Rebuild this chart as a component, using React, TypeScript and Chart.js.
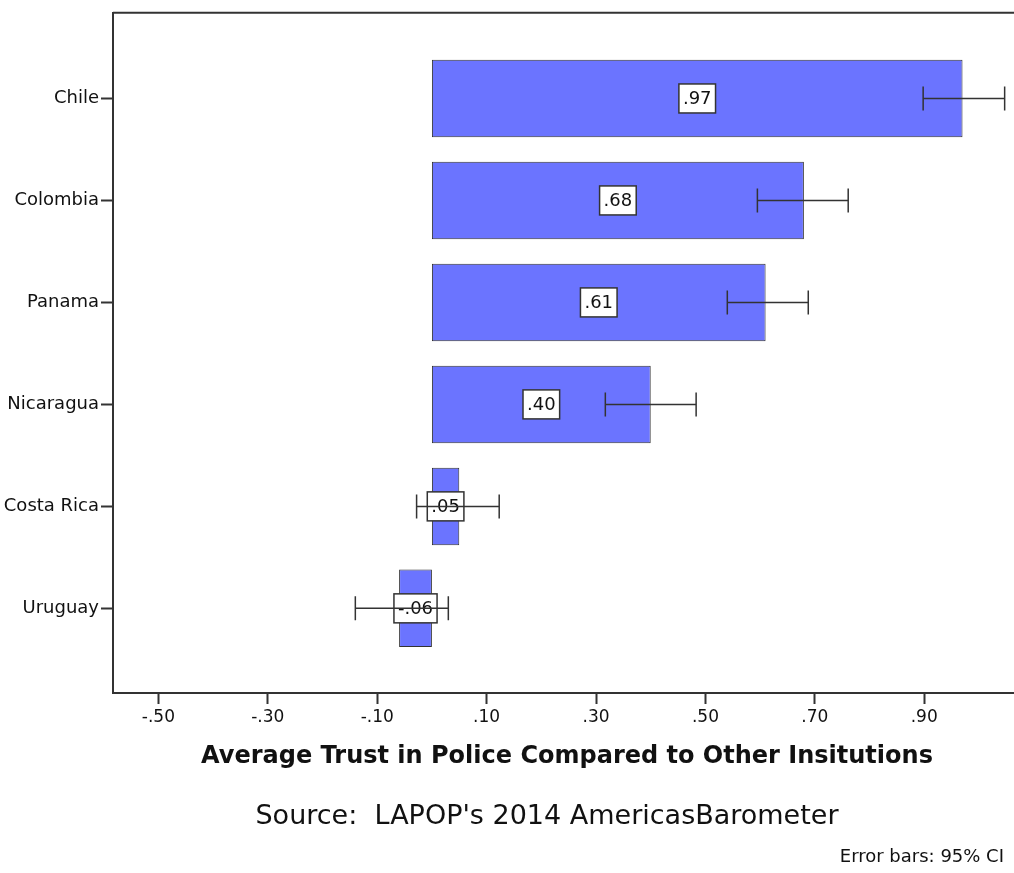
import React, { useEffect, useRef } from "react";
import { Chart, registerables } from "chart.js";

Chart.register(...registerables);

// Countries, top to bottom
const categories = ["Chile", "Colombia", "Panama", "Nicaragua", "Costa Rica", "Uruguay"];
// Mean trust in police relative to other institutions
const means = [0.97, 0.68, 0.61, 0.4, 0.05, -0.06];
// 95% confidence interval bounds
const ciLow = [0.898, 0.595, 0.54, 0.317, -0.028, -0.14];
const ciHigh = [1.047, 0.761, 0.688, 0.483, 0.123, 0.03];
// Value-axis tick positions
const xTicks = [-0.5, -0.3, -0.1, 0.1, 0.3, 0.5, 0.7, 0.9];

const axisTitle = "Average Trust in Police Compared to Other Insitutions";
const sourceText = "Source:  LAPOP's 2014 AmericasBarometer";
const noteText = "Error bars: 95% CI";

const FONT = "'DejaVu Sans', Verdana, sans-serif";
const INK = "#333333";

const fmt = (v: number) => {
  const s = Math.abs(v).toFixed(2).replace(/^0/, "");
  return v < 0 ? "-" + s : s;
};

const overlayPlugin = {
  id: "overlay",
  beforeDatasetsDraw(chart: any) {
    const { ctx, chartArea } = chart;
    ctx.save();
    ctx.strokeStyle = INK;
    ctx.lineWidth = 2;
    ctx.beginPath();
    ctx.moveTo(chartArea.left, chartArea.top);
    ctx.lineTo(chartArea.right, chartArea.top);
    ctx.stroke();
    ctx.restore();
  },
  afterDatasetsDraw(chart: any) {
    const { ctx } = chart;
    const xs = chart.scales.x;
    const ys = chart.scales.y;
    ctx.save();
    // value labels in boxed tags at the bar middle
    ctx.font = `18px ${FONT}`;
    ctx.textAlign = "center";
    ctx.textBaseline = "middle";
    means.forEach((m, i) => {
      const cx = (xs.getPixelForValue(0) + xs.getPixelForValue(m)) / 2;
      const cy = ys.getPixelForValue(i);
      const txt = fmt(m);
      const w = ctx.measureText(txt).width + 8;
      const h = 29;
      ctx.fillStyle = "#ffffff";
      ctx.fillRect(cx - w / 2, cy - h / 2, w, h);
      ctx.strokeStyle = INK;
      ctx.lineWidth = 1.5;
      ctx.strokeRect(cx - w / 2, cy - h / 2, w, h);
      ctx.fillStyle = "#111111";
      ctx.fillText(txt, cx, cy + 1);
    });
    // confidence interval whiskers
    ctx.strokeStyle = INK;
    ctx.lineWidth = 1.5;
    categories.forEach((_, i) => {
      const y = ys.getPixelForValue(i);
      const x1 = xs.getPixelForValue(ciLow[i]);
      const x2 = xs.getPixelForValue(ciHigh[i]);
      ctx.beginPath();
      ctx.moveTo(x1, y);
      ctx.lineTo(x2, y);
      ctx.moveTo(x1, y - 12);
      ctx.lineTo(x1, y + 12);
      ctx.moveTo(x2, y - 12);
      ctx.lineTo(x2, y + 12);
      ctx.stroke();
    });
    ctx.restore();
  },
  afterDraw(chart: any) {
    const { ctx } = chart;
    ctx.save();
    ctx.fillStyle = "#111111";
    ctx.textBaseline = "middle";
    ctx.textAlign = "center";
    ctx.font = `bold 24px ${FONT}`;
    ctx.fillText(axisTitle, 567, 757);
    ctx.font = `27px ${FONT}`;
    ctx.fillText(sourceText, 547, 817);
    ctx.textAlign = "right";
    ctx.font = `18px ${FONT}`;
    ctx.fillText(noteText, 1004, 857);
    ctx.restore();
  },
};

export default function App() {
  const ref = useRef<HTMLCanvasElement>(null);

  useEffect(() => {
    if (!ref.current) return;
    const chart = new Chart(ref.current, {
      type: "bar",
      data: {
        datasets: [
          {
            data: means.map((m, i) => ({ x: m, y: i })),
            backgroundColor: "#6B74FF",
            borderColor: INK,
            borderWidth: 1,
            borderSkipped: false,
            barPercentage: 0.76,
            categoryPercentage: 1,
          },
        ],
      },
      options: {
        indexAxis: "y",
        responsive: false,
        animation: false,
        devicePixelRatio: 1,
        layout: { padding: { top: 10, right: 8, left: 0, bottom: 0 } },
        plugins: {
          legend: { display: false },
          tooltip: { enabled: false },
        },
        scales: {
          x: {
            type: "linear",
            min: -0.583,
            max: 1.097,
            offset: false,
            afterBuildTicks: (scale: any) => {
              scale.ticks = xTicks.map((v) => ({ value: v }));
            },
            afterFit: (scale: any) => {
              scale.height = 180;
            },
            ticks: {
              autoSkip: false,
              maxRotation: 0,
              padding: 3,
              color: "#111111",
              font: { family: FONT, size: 17 },
              callback: (v: any) => fmt(Number(v)),
            },
            grid: {
              display: true,
              offset: false,
              drawOnChartArea: false,
              drawTicks: true,
              tickLength: 11,
              tickColor: INK,
              tickWidth: 2,
            },
            border: { display: true, color: INK, width: 2 },
          },
          y: {
            type: "linear",
            reverse: true,
            min: -0.84,
            max: 5.83,
            offset: false,
            afterBuildTicks: (scale: any) => {
              scale.ticks = categories.map((_, i) => ({ value: i }));
            },
            afterFit: (scale: any) => {
              scale.width = 113;
            },
            ticks: {
              autoSkip: false,
              padding: 2,
              color: "#111111",
              font: { family: FONT, size: 18 },
              callback: (v: any) => categories[Number(v)] ?? "",
            },
            grid: {
              display: true,
              offset: false,
              drawOnChartArea: false,
              drawTicks: true,
              tickLength: 12,
              tickColor: INK,
              tickWidth: 2,
            },
            border: { display: true, color: INK, width: 2 },
          },
        },
      },
      plugins: [overlayPlugin],
    } as any);
    return () => chart.destroy();
  }, []);

  return (
    <div
      style={{
        position: "fixed",
        left: 0,
        top: 0,
        width: 1014,
        height: 873,
        overflow: "hidden",
        background: "#ffffff",
      }}
    >
      <canvas ref={ref} width={1040} height={873} style={{ display: "block" }} />
    </div>
  );
}
